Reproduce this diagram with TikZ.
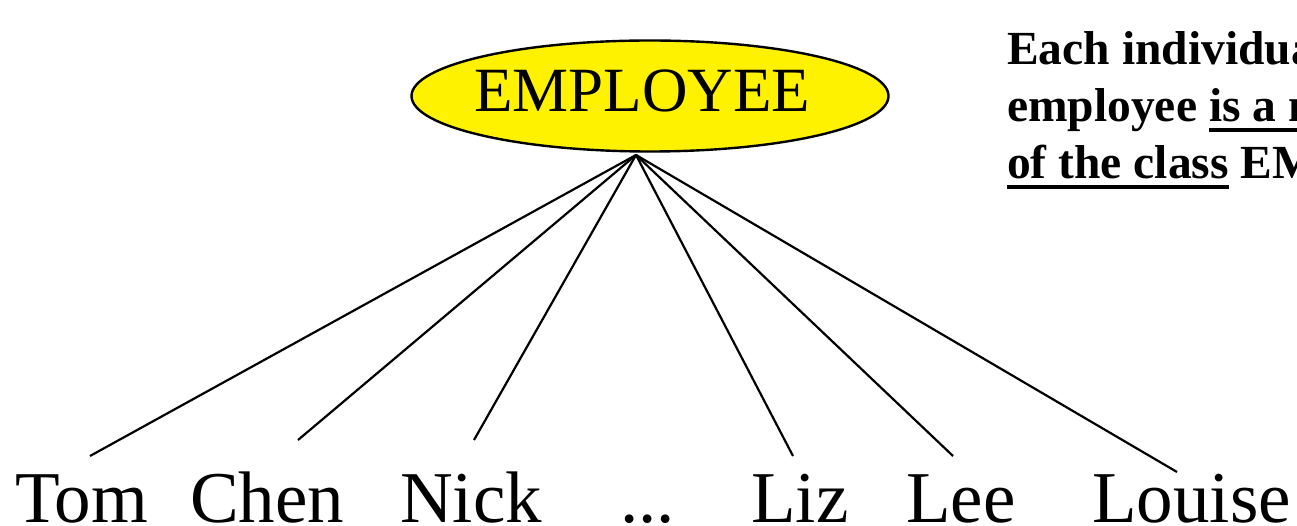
\documentclass[tikz,border=0pt]{standalone}
\usepackage{fontspec}
\setmainfont{Liberation Serif}
\usetikzlibrary{shapes.geometric}
\newcommand\myul[1]{\setbox0\hbox{#1}\rlap{\rule[-10pt]{\wd0}{3.5pt}}\box0\relax}
\tikzset{
  namelabel/.style={anchor=base west, inner sep=0pt, font=\fontsize{73}{73}\selectfont},
  notelabel/.style={anchor=base west, inner sep=0pt, font=\bfseries\fontsize{47.5}{47.5}\selectfont},
  conn/.style={line width=2.2pt},
  classnode/.style={ellipse, draw, line width=2.4pt, fill=yellow, inner sep=0pt, minimum width=477pt, minimum height=111pt}
}
\begin{document}
\begin{tikzpicture}[x=1pt,y=-1pt]
\clip (0,0) rectangle (1297,526);
\fill[white] (0,0) rectangle (1297,526);
\node[classnode] (emp) at (650,96) {};
\node[anchor=base, inner sep=0pt, font=\fontsize{63}{63}\selectfont] (emptext) at (642,112) {EMPLOYEE};
\coordinate (apex) at (636,155);
\node[namelabel] (tom) at (15,522) {Tom};
\node[namelabel] (chen) at (190,522) {Chen};
\node[namelabel] (nick) at (400,522) {Nick};
\node[namelabel] (dots) at (620,522) {...};
\node[namelabel] (liz) at (751,522) {Liz};
\node[namelabel] (lee) at (906,522) {Lee};
\node[namelabel] (louise) at (1092,522) {Louise};
\coordinate (tomend) at (90,456);
\coordinate (chenend) at (298,440);
\coordinate (nickend) at (474,440);
\coordinate (lizend) at (793,456);
\coordinate (leeend) at (953,456);
\coordinate (louiseend) at (1177,472);
\foreach \e in {tomend,chenend,nickend,lizend,leeend,louiseend}
  \draw[conn] (apex) -- (\e);
\node[notelabel] (note1) at (1007,65) {Each individual};
\node[notelabel] (note2) at (1007,122) {employee \myul{is a member}};
\node[notelabel] (note3) at (1007,179) {\myul{of the class} EMPLOYEE};
\end{tikzpicture}
\end{document}
